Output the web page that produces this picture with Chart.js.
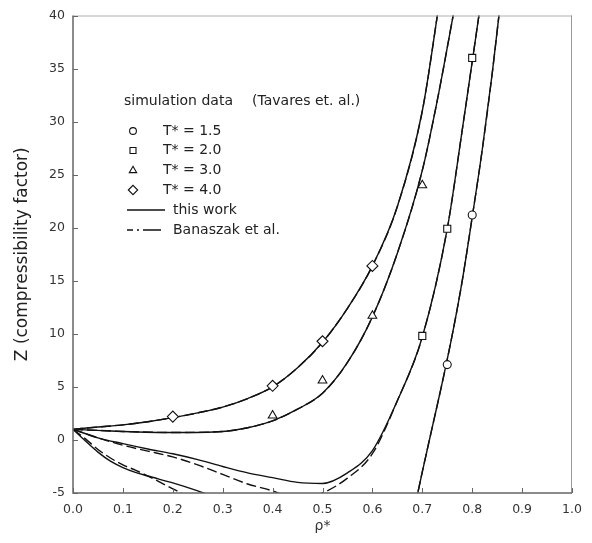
<!DOCTYPE html>
<html><head><meta charset="utf-8">
<script src="https://cdn.jsdelivr.net/npm/chart.js@4/dist/chart.umd.min.js"></script>
<style>html,body{margin:0;padding:0;background:#fff}#wrap{width:592px;height:543px;position:relative}</style>
</head><body><div id="wrap"><canvas id="c" width="592" height="543"></canvas></div>
<script>
// ---------- data ----------
const xTicks = [0,0.1,0.2,0.3,0.4,0.5,0.6,0.7,0.8,0.9,1.0];
const yTicks = [-5,0,5,10,15,20,25,30,35,40];

// this work (solid)
const t4X = [0,0.05,0.1,0.15,0.2,0.25,0.3,0.35,0.4,0.45,0.5,0.55,0.6,0.65,0.7,0.735];
const t4Z = [1,1.22,1.42,1.72,2.1,2.55,3.1,3.9,5.0,6.8,9.2,12.4,16.4,22.0,31.0,41.5];
const t3X = [0,0.05,0.1,0.2,0.3,0.35,0.4,0.45,0.5,0.55,0.6,0.65,0.7,0.73,0.765];
const t3Z = [1,0.9,0.8,0.7,0.8,1.15,1.8,2.9,4.4,7.3,11.6,17.6,25.4,32.0,40.8];
const t2X = [0,0.05,0.1,0.15,0.2,0.25,0.3,0.35,0.4,0.45,0.5,0.55,0.6,0.65,0.7,0.75,0.78,0.815];
const t2Z = [1,0.2,-0.35,-0.85,-1.3,-1.85,-2.5,-3.1,-3.55,-4.0,-4.1,-3.1,-1.0,3.7,9.7,19.9,29.2,40.5];
const t15X = [0,0.025,0.05,0.075,0.1,0.125,0.15,0.2,0.25,0.28,null,0.68,0.69,0.7,0.72,0.74,0.76,0.78,0.8,0.82,0.84,0.856];
const t15Z = [1,-0.1,-1.15,-2.0,-2.6,-3.05,-3.4,-4.05,-4.8,-5.3,null,-7.4,-5.2,-3.0,1.2,5.4,9.9,15.0,21.0,27.3,34.5,41];

// Banaszak et al. (dashed)
const b4X = [0,0.05,0.1,0.15,0.2,0.25,0.3,0.35,0.4,0.45,0.5,0.55,0.6,0.65,0.7,0.735];
const b4Z = [1,1.22,1.42,1.72,2.1,2.55,3.1,3.9,5.0,6.8,9.2,12.4,16.4,22.0,31.0,41.5];
const b3X = [0,0.05,0.1,0.2,0.3,0.35,0.4,0.45,0.5,0.55,0.6,0.65,0.7,0.73,0.765];
const b3Z = [1,0.9,0.8,0.7,0.8,1.15,1.8,2.9,4.4,7.3,11.6,17.6,25.4,32.0,40.8];
const b2X = [0,0.05,0.1,0.15,0.2,0.25,0.3,0.35,0.4,0.43,0.47,0.5,0.55,0.6,0.65,0.7,0.75,0.78,0.815];
const b2Z = [1,0.2,-0.5,-1.05,-1.6,-2.35,-3.25,-4.15,-4.8,-5.3,-5.4,-5.0,-3.6,-1.3,3.7,9.7,19.9,29.2,40.5];
const b15X = [0,0.025,0.05,0.075,0.1,0.125,0.15,0.175,0.2,0.225,null,0.68,0.69,0.7,0.72,0.74,0.76,0.78,0.8,0.82,0.84,0.856];
const b15Z = [1,0.1,-0.9,-1.7,-2.35,-2.85,-3.4,-4.0,-4.6,-5.2,null,-7.4,-5.2,-3.0,1.2,5.4,9.9,15.0,21.0,27.3,34.5,41];

// simulation data (Tavares et al.)
const s15X = [0.75,0.8];        const s15Z = [7.1,21.2];
const s20X = [0.7,0.75,0.8];    const s20Z = [9.8,19.9,36.0];
const s30X = [0.4,0.5,0.6,0.7]; const s30Z = [2.3,5.6,11.7,24.0];
const s40X = [0.2,0.4,0.5,0.6]; const s40Z = [2.2,5.1,9.3,16.4];

const legendTitle = ['simulation data', '(Tavares et. al.)'];
const simLabels = ['T* = 1.5','T* = 2.0','T* = 3.0','T* = 4.0'];
const lineLabels = ['this work','Banaszak et al.'];

// ---------- helpers ----------
const FONT = "'DejaVu Sans', sans-serif";
const INK = '#111';
const DASH = [10,4];
function pts(xs, ys){ return xs.map((x,i)=> x===null ? {x:NaN,y:null} : {x:x,y:ys[i]}); }
function lineDs(xs, ys, dashed){
  return {type:'line', data:pts(xs,ys), borderColor:INK, borderWidth:1.4, borderDash: dashed?DASH:[],
    pointRadius:0, fill:false, cubicInterpolationMode:'monotone', spanGaps:false, order:2};
}
const markerStyles = [
  {pointStyle:'circle', pointRadius:4},
  {pointStyle:'rect', pointRadius:5},
  {pointStyle:'triangle', pointRadius:5},
  {pointStyle:'rectRot', pointRadius:5.5}
];
function simDs(xs, ys, k){
  return {type:'scatter', data:pts(xs,ys), showLine:false, pointStyle:markerStyles[k].pointStyle,
    pointRadius:markerStyles[k].pointRadius, pointBorderColor:INK, pointBackgroundColor:'#fff',
    pointBorderWidth:1.1, order:0};
}

const datasets = [
  lineDs(t4X,t4Z,false), lineDs(t3X,t3Z,false), lineDs(t2X,t2Z,false), lineDs(t15X,t15Z,false),
  lineDs(b4X,b4Z,true), lineDs(b3X,b3Z,true), lineDs(b2X,b2Z,true), lineDs(b15X,b15Z,true),
  simDs(s15X,s15Z,0), simDs(s20X,s20Z,1), simDs(s30X,s30Z,2), simDs(s40X,s40Z,3)
];

// frame + inward ticks + legend
const framePlugin = {
  id:'frame',
  beforeDraw(chart){ const c = chart.ctx; c.save(); c.fillStyle = '#fff'; c.fillRect(0,0,chart.width,chart.height); c.restore(); },
  afterDraw(chart){
    const {ctx, chartArea:a, scales:{x, y}} = chart;
    ctx.save();
    ctx.lineWidth = 1;
    ctx.strokeStyle = '#b0b0b0';
    ctx.beginPath(); ctx.moveTo(a.left, a.top+0.5); ctx.lineTo(a.right, a.top+0.5); ctx.stroke();
    ctx.strokeStyle = '#999';
    ctx.beginPath(); ctx.moveTo(a.right-0.5, a.top); ctx.lineTo(a.right-0.5, a.bottom); ctx.stroke();
    ctx.strokeStyle = '#666'; ctx.lineWidth = 1.5;
    ctx.beginPath(); ctx.moveTo(a.left, a.top); ctx.lineTo(a.left, a.bottom); ctx.lineTo(a.right, a.bottom); ctx.stroke();
    ctx.lineWidth = 1; ctx.strokeStyle = '#666';
    xTicks.forEach(v=>{ const px = Math.round(x.getPixelForValue(v))+0.5;
      ctx.beginPath(); ctx.moveTo(px, a.bottom); ctx.lineTo(px, a.bottom-5); ctx.stroke(); });
    yTicks.forEach(v=>{ const py = Math.round(y.getPixelForValue(v))+0.5;
      ctx.beginPath(); ctx.moveTo(a.left, py); ctx.lineTo(a.left+5, py); ctx.stroke(); });

    // legend
    ctx.font = "14px " + FONT;
    ctx.textBaseline = 'middle';
    ctx.textAlign = 'left';
    ctx.fillStyle = '#222';
    ctx.fillText(legendTitle[0], 124, 101);
    ctx.fillText(legendTitle[1], 252, 101);
    const rows = [131,150.5,170.5,190];
    simLabels.forEach((t,k)=>{
      ctx.strokeStyle = INK; ctx.fillStyle = '#fff'; ctx.lineWidth = 1.1;
      Chart.helpers.drawPoint(ctx, {pointStyle:markerStyles[k].pointStyle, radius:markerStyles[k].pointRadius*0.85, borderWidth:1.1, rotation:0}, 133, rows[k]);
      ctx.fillStyle = '#222';
      ctx.fillText(t, 163, rows[k]);
    });
    ctx.strokeStyle = INK; ctx.lineWidth = 1.4;
    ctx.beginPath(); ctx.moveTo(127, 210); ctx.lineTo(165, 210); ctx.stroke();
    ctx.setLineDash([6,4,2,4,18]);
    ctx.beginPath(); ctx.moveTo(127, 230); ctx.lineTo(165, 230); ctx.stroke();
    ctx.setLineDash([]);
    ctx.fillStyle = '#222';
    ctx.fillText(lineLabels[0], 173, 210);
    ctx.fillText(lineLabels[1], 173, 230);
    ctx.restore();
  }
};

new Chart(document.getElementById('c'), {
  data:{datasets},
  options:{
    responsive:false, animation:false, devicePixelRatio:1,
    layout:{padding:{top:10, right:20, left:0, bottom:0}},
    plugins:{legend:{display:false}, tooltip:{enabled:false}},
    scales:{
      x:{type:'linear', min:0, max:1,
        grid:{display:false, drawTicks:false}, border:{display:false},
        afterBuildTicks(s){ s.ticks = xTicks.map(v=>({value:v})); },
        afterFit(s){ s.height = 50; },
        ticks:{padding:9, color:'#333', font:{family:FONT, size:12.5}, callback:v=>v.toFixed(1), maxRotation:0, autoSkip:false},
        title:{display:true, text:'ρ*', color:'#333', font:{family:FONT, size:14}, padding:{bottom:8, top:0}}
      },
      y:{type:'linear', min:-5, max:40,
        grid:{display:false, drawTicks:false}, border:{display:false},
        afterBuildTicks(s){ s.ticks = yTicks.map(v=>({value:v})); },
        afterFit(s){ s.width = 73; },
        ticks:{padding:8, color:'#333', font:{family:FONT, size:12.5}, callback:v=>String(v), autoSkip:false},
        title:{display:true, text:'Z (compressibility factor)', color:'#222', font:{family:FONT, size:17}, padding:{top:12}}
      }
    }
  },
  plugins:[framePlugin]
});
</script>
</body></html>
